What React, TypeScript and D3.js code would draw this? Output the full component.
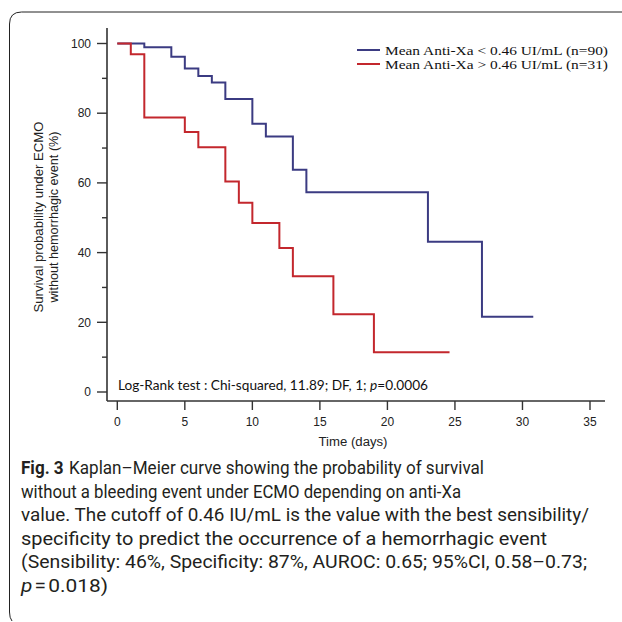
import React from "react";
import * as d3 from "d3";

const blueTimes = [0, 2, 4, 5, 6, 7, 8, 10, 11, 13, 14, 23, 27, 30.8];
const blueSurv = [100, 98.9, 96.2, 92.8, 90.7, 88.8, 84.1, 77.0, 73.3, 63.8, 57.3, 43.1, 21.6, 21.6];
const redTimes = [0, 1, 2, 5, 6, 8, 9, 10, 12, 13, 16, 19, 24.6];
const redSurv = [100, 96.9, 78.8, 74.6, 70.2, 60.4, 54.3, 48.5, 41.3, 33.2, 22.3, 11.4, 11.4];

const xTicks = [0, 5, 10, 15, 20, 25, 30, 35];
const yTicks = [0, 20, 40, 60, 80, 100];
const yMinor = [10, 30, 50, 70, 90];

const legendLabels = ["Mean Anti-Xa < 0.46 UI/mL (n=90)", "Mean Anti-Xa > 0.46 UI/mL (n=31)"];
const colors = ["#3b3b82", "#c3272d"];

const captionLines = [
  "Kaplan\u2013Meier curve showing the probability of survival",
  "without a bleeding event under ECMO depending on anti-Xa",
  "value. The cutoff of 0.46 IU/mL is the value with the best sensibility/",
  "specificity to predict the occurrence of a hemorrhagic event",
  "(Sensibility: 46%, Specificity: 87%, AUROC: 0.65; 95%CI, 0.58\u20130.73;",
];
const captionEnds = [484, 461, 589, 547, 587];

export default function App() {
  const x = d3.scaleLinear().domain([0, 35]).range([117.3, 590]);
  const y = d3.scaleLinear().domain([0, 100]).range([392, 43.5]);
  const axisColor = "#333";

  const mk = (ts: number[], ss: number[]) =>
    d3
      .line<number>()
      .x((_, i) => x(ts[i]))
      .y((s) => y(s))
      .curve(d3.curveStepAfter)(ss) || "";

  const axisX = 107;
  const axisY = 401;
  const capFont = "Roboto, Noto Sans, sans-serif";
  const capSize = 19;

  return (
    <svg
      width={622}
      height={622}
      style={{ position: "absolute", left: 0, top: 0, background: "#fff" }}
    >
      {/* frame */}
      <path
        d="M 9.5 612 L 9.5 24 Q 9.5 12 21.5 12 L 622 12"
        fill="none"
        stroke="#222"
        strokeWidth={1}
      />
      <path d="M 9.5 612 Q 9.5 618 12 621" fill="none" stroke="#222" strokeWidth={1} />

      {/* y axis */}
      <line x1={axisX} x2={axisX} y1={28} y2={axisY} stroke={axisColor} strokeWidth={1.6} />
      {yTicks.map((t) => (
        <g key={"yt" + t}>
          <line x1={axisX - 10} x2={axisX} y1={y(t)} y2={y(t)} stroke={axisColor} strokeWidth={1.4} />
          <text
            x={91}
            y={y(t)}
            dy="0.35em"
            textAnchor="end"
            fontFamily="Liberation Sans, Arial, sans-serif"
            fontSize={12}
            fill="#222"
          >
            {t}
          </text>
        </g>
      ))}
      {yMinor.map((t) => (
        <line key={"ym" + t} x1={axisX - 5} x2={axisX} y1={y(t)} y2={y(t)} stroke={axisColor} strokeWidth={1.4} />
      ))}

      {/* x axis */}
      <line x1={axisX} x2={605} y1={axisY} y2={axisY} stroke={axisColor} strokeWidth={1.6} />
      {xTicks.map((t) => (
        <g key={"xt" + t}>
          <line x1={x(t)} x2={x(t)} y1={axisY} y2={axisY + 9} stroke={axisColor} strokeWidth={1.4} />
          <text
            x={x(t)}
            y={422}
            dy="0.35em"
            textAnchor="middle"
            fontFamily="Liberation Sans, Arial, sans-serif"
            fontSize={12}
            fill="#222"
          >
            {t}
          </text>
        </g>
      ))}
      <text
        x={353}
        y={442}
        dy="0.35em"
        textAnchor="middle"
        fontFamily="Liberation Sans, Arial, sans-serif"
        fontSize={12.5}
        fill="#222"
        textLength={69}
        lengthAdjust="spacingAndGlyphs"
      >
        Time (days)
      </text>

      {/* y label */}
      <g transform="translate(38,217) rotate(-90)">
        <text
          textAnchor="middle"
          dy="0.35em"
          fontFamily="Liberation Sans, Arial, sans-serif"
          fontSize={13}
          fill="#222"
          textLength={191}
          lengthAdjust="spacingAndGlyphs"
        >
          Survival probability under ECMO
        </text>
      </g>
      <g transform="translate(53,217) rotate(-90)">
        <text
          textAnchor="middle"
          dy="0.35em"
          fontFamily="Liberation Sans, Arial, sans-serif"
          fontSize={13}
          fill="#222"
          textLength={171}
          lengthAdjust="spacingAndGlyphs"
        >
          without hemorrhagic event (%)
        </text>
      </g>

      {/* curves */}
      <path d={mk(blueTimes, blueSurv)} fill="none" stroke={colors[0]} strokeWidth={2} />
      <path d={mk(redTimes, redSurv)} fill="none" stroke={colors[1]} strokeWidth={2} />

      {/* legend */}
      {legendLabels.map((l, i) => (
        <g key={l}>
          <line x1={357} x2={380} y1={50 + i * 14} y2={50 + i * 14} stroke={colors[i]} strokeWidth={2} />
          <text
            x={385}
            y={50 + i * 14}
            dy="0.35em"
            fontFamily="Liberation Serif, Times New Roman, serif"
            fontSize={13.5}
            fill="#111"
            textLength={223}
            lengthAdjust="spacingAndGlyphs"
          >
            {l}
          </text>
        </g>
      ))}

      {/* log-rank */}
      <text
        x={118}
        y={386}
        dy="0.35em"
        fontFamily="Lato, Open Sans, sans-serif"
        fontSize={12.5}
        fill="#111"
        textLength={310}
        lengthAdjust="spacingAndGlyphs"
      >
        Log-Rank test : Chi-squared, 11.89; DF, 1; <tspan fontStyle="italic">p</tspan>=0.0006
      </text>

      {/* caption */}
      <text
        x={21}
        y={467}
        dy="0.35em"
        fontFamily={capFont}
        fontSize={capSize}
        fill="#231f20"
        textLength={captionEnds[0] - 21}
        lengthAdjust="spacingAndGlyphs"
      >
        <tspan fontWeight="bold">Fig. 3</tspan>
        <tspan dx={6}>{captionLines[0]}</tspan>
      </text>
      {captionLines.slice(1).map((l, i) => (
        <text
          key={i}
          x={21}
          y={491 + i * 23.6}
          dy="0.35em"
          fontFamily={capFont}
          fontSize={capSize}
          fill="#231f20"
          textLength={captionEnds[i + 1] - 21}
          lengthAdjust="spacingAndGlyphs"
        >
          {l}
        </text>
      ))}
      <text
        x={21}
        y={585}
        dy="0.35em"
        fontFamily={capFont}
        fontSize={capSize}
        fill="#231f20"
        textLength={87}
        lengthAdjust="spacingAndGlyphs"
      >
        <tspan fontStyle="italic">p</tspan>
        <tspan dx={2}>=</tspan>
        <tspan dx={2}>0.018)</tspan>
      </text>
    </svg>
  );
}
